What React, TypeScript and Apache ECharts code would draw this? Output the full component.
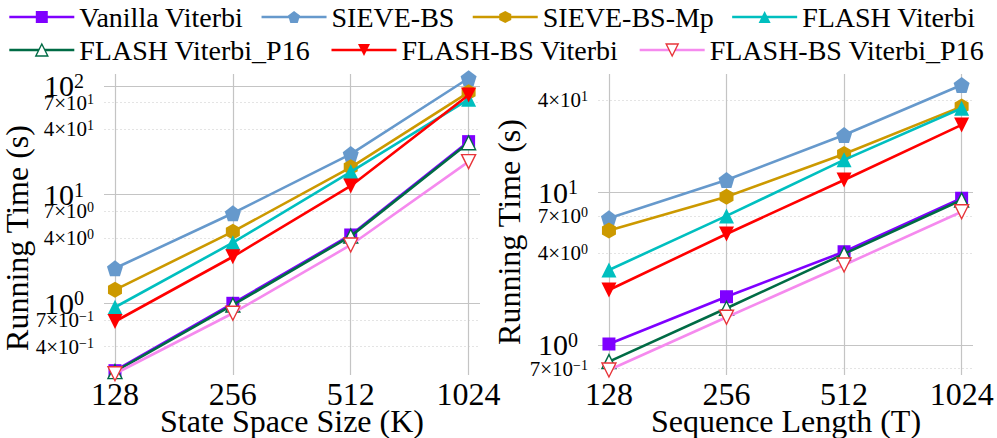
import React, { useEffect, useRef } from "react";
import * as echarts from "echarts";

const FONT = "Liberation Serif";

// x positions (both panels share the power-of-two sizes)
const SIZES = [128, 256, 512, 1024];

const SERIES_NAMES = [
  "Vanilla Viterbi",
  "SIEVE-BS",
  "SIEVE-BS-Mp",
  "FLASH Viterbi",
  "FLASH Viterbi_P16",
  "FLASH-BS Viterbi",
  "FLASH-BS Viterbi_P16",
];

// Left panel: State Space Size (K)
const K_VANILLA = [0.24, 1.0, 4.25, 30.7];
const K_SIEVE_BS = [2.1, 6.73, 23.6, 117.5];
const K_SIEVE_BS_MP = [1.33, 4.56, 17.8, 87.3];
const K_FLASH = [0.92, 3.61, 16.2, 75.3];
const K_FLASH_P16 = [0.235, 0.965, 4.15, 30.0];
const K_FLASH_BS = [0.68, 2.68, 12.0, 82.5];
const K_FLASH_BS_P16 = [0.225, 0.81, 3.44, 20.1];

// Right panel: Sequence Length (T)
const T_VANILLA = [1.015, 2.07, 4.08, 9.14];
const T_SIEVE_BS = [6.76, 12.04, 23.7, 50.4];
const T_SIEVE_BS_MP = [5.61, 9.36, 17.8, 36.4];
const T_FLASH = [3.1, 7.0, 16.3, 35.5];
const T_FLASH_P16 = [0.778, 1.74, 3.95, 8.9];
const T_FLASH_BS = [2.29, 5.33, 12.04, 27.6];
const T_FLASH_BS_P16 = [0.686, 1.52, 3.34, 7.46];

// tick values
const K_MAJOR_TICKS = [1, 10, 100];
const K_MINOR_TICKS = [0.4, 0.7, 4, 7, 40, 70];
const T_MAJOR_TICKS = [1, 10];
const T_MINOR_TICKS = [0.7, 4, 7, 40];

const PENTAGON = "path://M50,0 L97.55,34.55 L79.39,90.45 L20.61,90.45 L2.45,34.55 Z";
const HEXAGON = "path://M50,0 L93.3,25 L93.3,75 L50,100 L6.7,75 L6.7,25 Z";

const STYLES = [
  { line: "#7F00FF", symbol: "rect", size: 13, rotate: 0, fill: "#7F00FF", border: null },
  { line: "#6699CC", symbol: PENTAGON, size: 16, rotate: 0, fill: "#6699CC", border: null },
  { line: "#CC9900", symbol: HEXAGON, size: [14, 16], rotate: 0, fill: "#CC9900", border: null },
  { line: "#00BFBF", symbol: "triangle", size: 15, rotate: 0, fill: "#00BFBF", border: null },
  { line: "#006B45", symbol: "triangle", size: 14, rotate: 0, fill: "#ffffff", border: "#006B45" },
  { line: "#FF0000", symbol: "triangle", size: 15, rotate: 180, fill: "#FF0000", border: null },
  { line: "#F58AEE", symbol: "triangle", size: 14, rotate: 180, fill: "#ffffff", border: "#E8353A" },
];

const supExp = (e: number) => (e < 0 ? "\u2212" + Math.abs(e) : String(e));

const majorFmt = (v: number) => {
  const l = Math.log10(v);
  const e = Math.round(l);
  if (Math.abs(l - e) > 1e-6) return "";
  return `{m|10}{e|${supExp(e)}}`;
};

const minorFmt = (v: number) => {
  const e = Math.floor(Math.log10(v) + 1e-9);
  const m = Math.round(v / Math.pow(10, e));
  return `{n|${m}\u00d710}{s|${supExp(e)}}`;
};

const xFmt = (v: number) => {
  const l = Math.log2(v);
  return Math.abs(l - Math.round(l)) < 1e-6 ? String(Math.round(v)) : "";
};

const MAJOR_LINE = { color: "#c4c4c4", width: 1.2, type: "solid" };
const MINOR_LINE = { color: "#e4e4e4", width: 1, type: [2, 2] };

function gridLines(major: number[], minor: number[]) {
  return {
    silent: true,
    z: 1,
    symbol: ["none", "none"],
    animation: false,
    emphasis: { disabled: true },
    label: {
      show: false,
      position: "start",
      distance: 10,
      color: "#000",
      fontFamily: FONT,
      rich: {
        n: { fontSize: 21, fontFamily: FONT, color: "#000" },
        s: { fontSize: 14, fontFamily: FONT, color: "#000", verticalAlign: "top" },
      },
    },
    data: [
      ...major.map((v) => ({ yAxis: v, lineStyle: MAJOR_LINE, label: { show: false } })),
      ...minor.map((v) => ({
        yAxis: v,
        lineStyle: MINOR_LINE,
        label: { show: true, formatter: () => minorFmt(v) },
      })),
      ...SIZES.map((v) => ({ xAxis: v, lineStyle: MAJOR_LINE, label: { show: false } })),
    ],
  };
}

function makeSeries(panel: number, arrays: number[][], major: number[], minor: number[]) {
  return arrays.map((arr, i) => {
    const st = STYLES[i];
    return {
      type: "line",
      name: SERIES_NAMES[i],
      xAxisIndex: panel,
      yAxisIndex: panel,
      data: SIZES.map((x, j) => [x, arr[j]]),
      symbol: st.symbol,
      symbolSize: st.size,
      symbolRotate: st.rotate,
      showSymbol: true,
      clip: false,
      z: 2 + i * 0.01,
      lineStyle: { color: st.line, width: 2.6 },
      itemStyle: st.border
        ? { color: st.fill, borderColor: st.border, borderWidth: 1.4 }
        : { color: st.fill, borderWidth: 0 },
      emphasis: { disabled: true },
      markLine: i === 0 ? gridLines(major, minor) : undefined,
    };
  });
}

function legendItem(i: number) {
  const st = STYLES[i];
  return {
    name: SERIES_NAMES[i],
    itemStyle: st.border
      ? { color: st.fill, borderColor: st.border, borderWidth: 1.4 }
      : { color: st.fill, borderWidth: 0 },
    lineStyle: { color: st.line, width: 2.6 },
  };
}

const legendCommon = {
  left: 3,
  orient: "horizontal",
  itemWidth: 65,
  itemHeight: 15,
  selectedMode: false,
  textStyle: { fontSize: 28, fontFamily: FONT, color: "#000" },
};

function xAxis(grid: number) {
  return {
    gridIndex: grid,
    type: "log",
    logBase: 2,
    min: 120,
    max: 1095,
    axisLine: { show: false },
    axisTick: { show: false },
    splitLine: { show: false },
    minorSplitLine: { show: false },
    axisLabel: { formatter: xFmt, fontSize: 32, fontFamily: FONT, color: "#000", margin: 3 },
  };
}

function yAxis(grid: number, min: number, max: number) {
  return {
    gridIndex: grid,
    type: "log",
    logBase: 10,
    min,
    max,
    axisLine: { show: false },
    axisTick: { show: false },
    splitLine: { show: false },
    minorSplitLine: { show: false },
    axisLabel: {
      formatter: majorFmt,
      margin: 20,
      showMinLabel: false,
      showMaxLabel: false,
      fontFamily: FONT,
      rich: {
        m: { fontSize: 30, fontFamily: FONT, color: "#000" },
        e: { fontSize: 20, fontFamily: FONT, color: "#000", verticalAlign: "top" },
      },
    },
  };
}

function titleText(text: string, x: number, y: number, rotation: number) {
  return {
    type: "text",
    x,
    y,
    rotation,
    style: {
      text,
      fontSize: 32,
      fontFamily: FONT,
      fill: "#000",
      align: "center",
      verticalAlign: "middle",
    },
  };
}

function buildOption() {
  return {
    animation: false,
    legend: [
      { ...legendCommon, top: -2, itemGap: 17, data: [0, 1, 2, 3].map(legendItem) },
      { ...legendCommon, top: 31, itemGap: 20, data: [4, 5, 6].map(legendItem) },
    ],
    grid: [
      { left: 104, top: 74, width: 376, height: 301, outerBoundsMode: "none", containLabel: false },
      { left: 598, top: 74, width: 375, height: 301, outerBoundsMode: "none", containLabel: false },
    ],
    xAxis: [xAxis(0), xAxis(1)],
    yAxis: [yAxis(0, 0.219, 128.6), yAxis(1, 0.636, 59.5)],
    graphic: [
      titleText("Running Time (s)", 17, 238, Math.PI / 2),
      titleText("Running Time (s)", 509, 232, Math.PI / 2),
      titleText("State Space Size (K)", 292, 421, 0),
      titleText("Sequence Length (T)", 786, 421, 0),
    ],
    series: [
      ...makeSeries(
        0,
        [K_VANILLA, K_SIEVE_BS, K_SIEVE_BS_MP, K_FLASH, K_FLASH_P16, K_FLASH_BS, K_FLASH_BS_P16],
        K_MAJOR_TICKS,
        K_MINOR_TICKS
      ),
      ...makeSeries(
        1,
        [T_VANILLA, T_SIEVE_BS, T_SIEVE_BS_MP, T_FLASH, T_FLASH_P16, T_FLASH_BS, T_FLASH_BS_P16],
        T_MAJOR_TICKS,
        T_MINOR_TICKS
      ),
    ],
  };
}

export default function App() {
  const ref = useRef<HTMLDivElement>(null);
  useEffect(() => {
    document.body.style.margin = "0";
    if (!ref.current) return;
    const chart = echarts.init(ref.current, null, { renderer: "svg" });
    chart.setOption(buildOption());
    let alive = true;
    const rerender = () => {
      if (!alive) return;
      chart.clear();
      chart.setOption(buildOption());
    };
    const timers: number[] = [];
    const fonts = (document as any).fonts;
    if (fonts && fonts.ready) {
      fonts.ready.then(() => {
        timers.push(window.setTimeout(rerender, 30));
      });
    }
    timers.push(window.setTimeout(rerender, 250));
    return () => {
      alive = false;
      timers.forEach((t) => window.clearTimeout(t));
      chart.dispose();
    };
  }, []);
  return (
    <div style={{ position: "relative", width: 997, height: 438, fontFamily: FONT }}>
      <span
        aria-hidden="true"
        style={{ position: "absolute", left: -2000, top: 0, fontFamily: FONT, fontSize: 28 }}
      >
        Ag
      </span>
      <div ref={ref} style={{ width: 997, height: 438 }} />
    </div>
  );
}
